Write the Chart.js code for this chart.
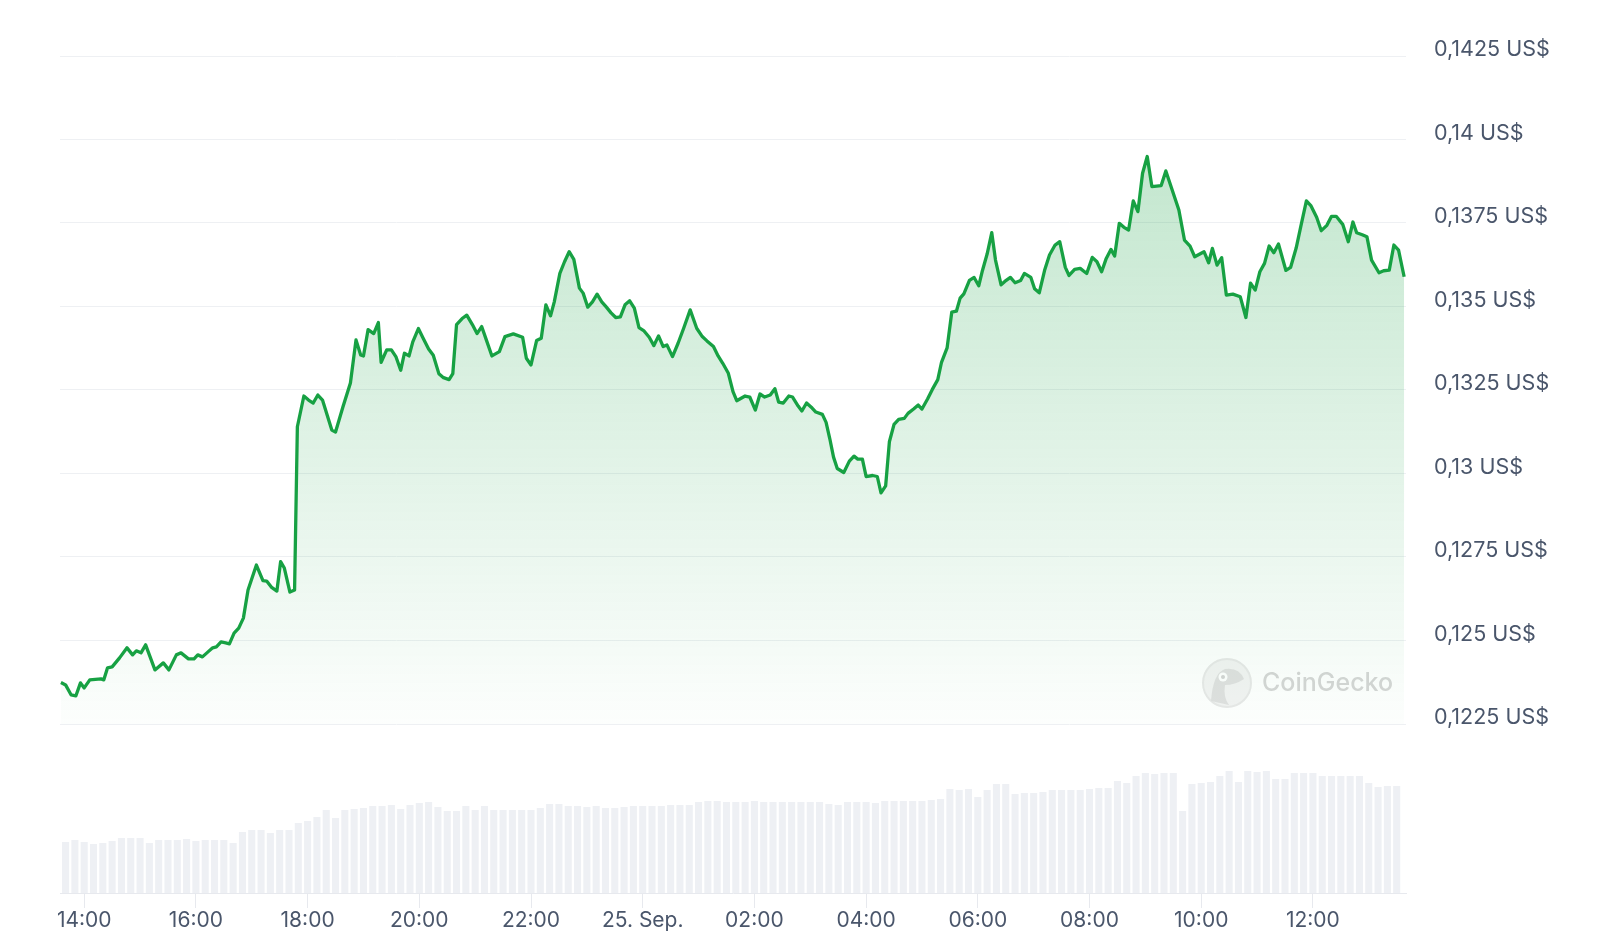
<!DOCTYPE html>
<html>
<head>
<meta charset="utf-8">
<title>Kursverlauf 24h</title>
<script src="https://cdn.jsdelivr.net/npm/chart.js@4.4.1/dist/chart.umd.min.js"></script>
<style>
  html, body { margin: 0; padding: 0; background: #ffffff; }
  #chart-container { width: 1600px; height: 949px; }
</style>
</head>
<body>
<div id="chart-container"><canvas id="chart" width="1600" height="949"></canvas></div>
<script>
// times are minutes after 00:00 on 24 Sep
const priceTimes = [
  815, 820, 826, 831, 836, 840, 846, 858, 861, 865, 870, 878, 886, 892, 896, 901, 906, 916, 925, 931,
  939, 944, 952, 958, 962, 967, 973, 978, 982, 987, 992, 996, 1001, 1006, 1011, 1016, 1025, 1032, 1036, 1041,
  1047, 1051, 1055, 1061, 1066, 1069, 1076, 1081, 1086, 1091, 1096, 1106, 1110, 1118, 1126, 1132, 1137, 1140, 1145, 1151,
  1156, 1159, 1165, 1170, 1175, 1180, 1184, 1189, 1193, 1199, 1204, 1210, 1215, 1221, 1226, 1232, 1236, 1240, 1246, 1251,
  1257, 1262, 1267, 1272, 1278, 1286, 1292, 1301, 1311, 1315, 1320, 1326, 1331, 1336, 1341, 1345, 1351, 1356, 1361, 1366,
  1372, 1376, 1381, 1386, 1391, 1396, 1401, 1406, 1411, 1416, 1421, 1426, 1431, 1436, 1441, 1447, 1452, 1457, 1462, 1466,
  1472, 1478, 1484, 1491, 1498, 1504, 1509, 1516, 1521, 1526, 1532, 1537, 1541, 1550, 1555, 1561, 1566, 1571, 1577, 1582,
  1586, 1591, 1597, 1601, 1607, 1611, 1616, 1622, 1626, 1633, 1637, 1641, 1645, 1649, 1656, 1662, 1667, 1671, 1676, 1680,
  1687, 1692, 1696, 1701, 1705, 1710, 1715, 1721, 1725, 1731, 1736, 1740, 1746, 1751, 1757, 1761, 1767, 1772, 1777, 1781,
  1785, 1791, 1796, 1801, 1805, 1810, 1815, 1819, 1825, 1829, 1835, 1840, 1846, 1850, 1857, 1861, 1866, 1872, 1877, 1883,
  1888, 1894, 1898, 1904, 1910, 1917, 1923, 1928, 1933, 1938, 1943, 1947, 1952, 1957, 1962, 1967, 1972, 1977, 1982, 1987,
  1997, 2002, 2009, 2016, 2022, 2028, 2033, 2043, 2048, 2052, 2057, 2062, 2067, 2074, 2082, 2088, 2093, 2098, 2103, 2108,
  2113, 2118, 2123, 2131, 2136, 2142, 2147, 2153, 2158, 2164, 2169, 2175, 2180, 2185, 2192, 2198, 2203, 2207, 2213, 2218,
  2223, 2231, 2236, 2242, 2247, 2252, 2258
];
const prices = [
  0.12374, 0.12367, 0.12337, 0.12334, 0.12373, 0.12358, 0.12382, 0.12385, 0.12382, 0.12418, 0.12421, 0.12448, 0.12478, 0.12457, 0.12469, 0.12463, 0.12487, 0.12412, 0.12433, 0.12412,
  0.12457, 0.12463, 0.12445, 0.12445, 0.12457, 0.12451, 0.12466, 0.12478, 0.12481, 0.12496, 0.12493, 0.1249, 0.12522, 0.12537, 0.12567, 0.12651, 0.12726, 0.12679, 0.12678, 0.1266,
  0.12648, 0.12736, 0.12717, 0.12645, 0.12651, 0.1314, 0.13232, 0.1322, 0.13211, 0.13235, 0.1322, 0.1313, 0.13124, 0.132, 0.13271, 0.134, 0.13355, 0.13352, 0.13431, 0.13419,
  0.13452, 0.13333, 0.1337, 0.1337, 0.13349, 0.13309, 0.1336, 0.13352, 0.13394, 0.13434, 0.13406, 0.13373, 0.13354, 0.13299, 0.13287, 0.13281, 0.13299, 0.13446, 0.13464, 0.13474,
  0.13446, 0.13419, 0.1344, 0.134, 0.13352, 0.13365, 0.1341, 0.13418, 0.13408, 0.13345, 0.13325, 0.13398, 0.13405, 0.13505, 0.13472, 0.13514, 0.13599, 0.13634, 0.13664, 0.13641,
  0.13555, 0.1354, 0.13498, 0.13514, 0.13537, 0.13514, 0.13498, 0.13481, 0.13467, 0.13469, 0.13505, 0.13517, 0.13495, 0.13437, 0.13428, 0.13408, 0.13383, 0.13412, 0.1338, 0.13385,
  0.1335, 0.1339, 0.13435, 0.1349, 0.13435, 0.1341, 0.13397, 0.1338, 0.13352, 0.1333, 0.133, 0.13245, 0.13218, 0.13232, 0.13229, 0.1319, 0.13238, 0.13229, 0.13235, 0.13254,
  0.13214, 0.13211, 0.13232, 0.13229, 0.13202, 0.13187, 0.13211, 0.13196, 0.13184, 0.13177, 0.13153, 0.13104, 0.13049, 0.13015, 0.13003, 0.13037, 0.13052, 0.13043, 0.13043, 0.12991,
  0.12994, 0.12991, 0.12942, 0.12963, 0.13095, 0.13147, 0.13162, 0.13165, 0.1318, 0.13193, 0.13205, 0.13193, 0.13223, 0.13251, 0.13281, 0.13333, 0.13376, 0.13483, 0.13486, 0.13525,
  0.13538, 0.13578, 0.13587, 0.13562, 0.13608, 0.13657, 0.13721, 0.13639, 0.13565, 0.13575, 0.13587, 0.13571, 0.13578, 0.13599, 0.13587, 0.13553, 0.13541, 0.13611, 0.13654, 0.13684,
  0.13694, 0.13617, 0.13593, 0.13611, 0.13614, 0.13599, 0.13647, 0.13634, 0.13604, 0.13644, 0.13671, 0.13651, 0.13749, 0.13737, 0.13729, 0.13816, 0.13784, 0.13899, 0.13949, 0.13859,
  0.13862, 0.13906, 0.13847, 0.13789, 0.13699, 0.13681, 0.13649, 0.13664, 0.13631, 0.13674, 0.13624, 0.13646, 0.13534, 0.13537, 0.13529, 0.13467, 0.1357, 0.13549, 0.13604, 0.13629,
  0.13681, 0.13661, 0.13687, 0.13608, 0.13617, 0.13675, 0.1374, 0.13816, 0.13801, 0.13767, 0.13727, 0.13743, 0.1377, 0.1377, 0.13746, 0.13694, 0.13753, 0.13721, 0.13715, 0.13709,
  0.13639, 0.13601, 0.13607, 0.13609, 0.13684, 0.13669, 0.13589
];

// 10-minute volume bars, in million US$
const volumeTimes = [
  820, 830, 840, 850, 860, 870, 880, 890, 900, 910, 920, 930, 940, 950, 960, 970, 980, 990, 1000, 1010,
  1020, 1030, 1040, 1050, 1060, 1070, 1080, 1090, 1100, 1110, 1120, 1130, 1140, 1150, 1160, 1170, 1180, 1190, 1200, 1210,
  1220, 1230, 1240, 1250, 1260, 1270, 1280, 1290, 1300, 1310, 1320, 1330, 1340, 1350, 1360, 1370, 1380, 1390, 1400, 1410,
  1420, 1430, 1440, 1450, 1460, 1470, 1480, 1490, 1500, 1510, 1520, 1530, 1540, 1550, 1560, 1570, 1580, 1590, 1600, 1610,
  1620, 1630, 1640, 1650, 1660, 1670, 1680, 1690, 1700, 1710, 1720, 1730, 1740, 1750, 1760, 1770, 1780, 1790, 1800, 1810,
  1820, 1830, 1840, 1850, 1860, 1870, 1880, 1890, 1900, 1910, 1920, 1930, 1940, 1950, 1960, 1970, 1980, 1990, 2000, 2010,
  2020, 2030, 2040, 2050, 2060, 2070, 2080, 2090, 2100, 2110, 2120, 2130, 2140, 2150, 2160, 2170, 2180, 2190, 2200, 2210,
  2220, 2230, 2240, 2250
];
const volumes = [
  5.1, 5.3, 5.1, 4.9, 5.0, 5.2, 5.5, 5.5, 5.5, 5.0, 5.3, 5.3, 5.3, 5.4, 5.2, 5.3, 5.3, 5.3, 5.0, 6.1,
  6.3, 6.3, 6.0, 6.3, 6.3, 7.0, 7.2, 7.6, 8.3, 7.5, 8.3, 8.4, 8.5, 8.7, 8.7, 8.8, 8.4, 8.8, 9.0, 9.1,
  8.6, 8.2, 8.2, 8.7, 8.3, 8.7, 8.3, 8.3, 8.3, 8.3, 8.3, 8.5, 8.9, 8.9, 8.7, 8.7, 8.6, 8.7, 8.5, 8.5,
  8.6, 8.7, 8.7, 8.7, 8.7, 8.8, 8.8, 8.8, 9.1, 9.2, 9.2, 9.1, 9.1, 9.1, 9.2, 9.1, 9.1, 9.1, 9.1, 9.1,
  9.1, 9.1, 8.9, 8.8, 9.1, 9.1, 9.1, 9.0, 9.2, 9.2, 9.2, 9.2, 9.2, 9.3, 9.4, 10.4, 10.3, 10.4, 9.6, 10.3,
  10.9, 10.9, 9.9, 10.0, 10.0, 10.1, 10.3, 10.3, 10.3, 10.3, 10.4, 10.5, 10.5, 11.2, 11.0, 11.7, 12.0, 11.9, 12.0, 12.0,
  8.2, 10.9, 11.0, 11.1, 11.7, 12.2, 11.1, 12.2, 12.1, 12.2, 11.4, 11.4, 12.0, 12.0, 12.0, 11.7, 11.7, 11.7, 11.7, 11.7,
  11.0, 10.6, 10.7, 10.7
];

const xTickTimes = [840, 960, 1080, 1200, 1320, 1440, 1560, 1680, 1800, 1920, 2040, 2160];
const xTickLabels = ["14:00", "16:00", "18:00", "20:00", "22:00", "25. Sep.", "02:00", "04:00", "06:00", "08:00", "10:00", "12:00"];
const yTickValues = [0.1225, 0.125, 0.1275, 0.13, 0.1325, 0.135, 0.1375, 0.14, 0.1425];

const labelColor = "#4a566b";
const lineColor = "#17a143";

function fillGradient(context) {
  const chart = context.chart;
  const y = chart.scales.y;
  if (!chart.chartArea || !y || !isFinite(y.top) || !isFinite(y.bottom)) return "rgba(23,161,67,0.15)";
  const g = chart.ctx.createLinearGradient(0, y.top, 0, y.bottom);
  g.addColorStop(0, "rgba(23,161,67,0.30)");
  g.addColorStop(1, "rgba(23,161,67,0.01)");
  return g;
}

function formatPrice(v) {
  return Number(v.toFixed(4)).toString().replace(".", ",") + " US$";
}

// faint CoinGecko mark under the line
const watermark = {
  id: "watermark",
  beforeDatasetsDraw(chart) {
    const ctx = chart.ctx;
    const cx = chart.chartArea.right - 179;
    const cy = chart.scales.y.bottom - 41;
    ctx.save();
    ctx.beginPath();
    ctx.arc(cx, cy, 24, 0, Math.PI * 2);
    ctx.fillStyle = "#f3f3f3";
    ctx.fill();
    ctx.lineWidth = 2;
    ctx.strokeStyle = "#e8e8e8";
    ctx.stroke();
    ctx.beginPath();
    ctx.moveTo(cx - 16, cy + 18);
    ctx.quadraticCurveTo(cx - 14, cy - 10, cx - 2, cy - 14);
    ctx.quadraticCurveTo(cx + 12, cy - 16, cx + 17, cy - 4);
    ctx.quadraticCurveTo(cx + 8, cy + 2, cx - 2, cy + 2);
    ctx.quadraticCurveTo(cx - 4, cy + 14, cx + 2, cy + 22);
    ctx.closePath();
    ctx.fillStyle = "#e0e0e0";
    ctx.fill();
    ctx.beginPath();
    ctx.arc(cx - 4, cy - 6, 4.5, 0, Math.PI * 2);
    ctx.fillStyle = "#ffffff";
    ctx.fill();
    ctx.beginPath();
    ctx.arc(cx - 4, cy - 6, 2, 0, Math.PI * 2);
    ctx.fillStyle = "#d4d4d4";
    ctx.fill();
    ctx.font = "500 25px Inter";
    ctx.fillStyle = "#d6d6d6";
    ctx.textBaseline = "middle";
    ctx.fillText("CoinGecko", cx + 35, cy);
    ctx.restore();
  }
};

new Chart(document.getElementById("chart"), {
  type: "line",
  data: {
    datasets: [
      {
        type: "line",
        label: "Preis",
        data: priceTimes.map((t, i) => ({ x: t, y: prices[i] })),
        yAxisID: "y",
        borderColor: lineColor,
        borderWidth: 3.3,
        borderJoinStyle: "round",
        pointRadius: 0,
        tension: 0,
        fill: "start",
        backgroundColor: fillGradient,
        order: 0,
      },
      {
        type: "bar",
        label: "Volumen",
        data: volumeTimes.map((t, i) => ({ x: t, y: volumes[i] })),
        yAxisID: "yv",
        backgroundColor: "#eef0f4",
        barPercentage: 0.76,
        categoryPercentage: 1,
        order: 1,
      },
    ],
  },
  options: {
    responsive: false,
    animation: false,
    layout: { padding: { left: 60, top: 56, right: 0, bottom: 0 } },
    plugins: {
      legend: { display: false },
      tooltip: { enabled: false },
    },
    scales: {
      x: {
        type: "linear",
        position: "bottom",
        min: 814,
        max: 2260,
        offset: false,
        afterBuildTicks: (s) => { s.ticks = xTickTimes.map((v) => ({ value: v })); },
        afterFit: (s) => { s.height = 56; },
        grid: { offset: false, drawOnChartArea: false, drawTicks: true, tickLength: 15, color: "#e7e9ee" },
        border: { display: true, color: "#e7e9ee" },
        ticks: {
          font: { family: "Inter", size: 21 },
          color: labelColor,
          padding: 0,
          maxRotation: 0,
          autoSkip: false,
          callback: (v) => xTickLabels[xTickTimes.indexOf(v)],
        },
      },
      y: {
        type: "linear",
        position: "right",
        stack: "main",
        stackWeight: 668,
        min: 0.1225,
        max: 0.1425,
        afterBuildTicks: (s) => { s.ticks = yTickValues.map((v) => ({ value: v })); },
        afterFit: (s) => { s.width = 194; },
        grid: { color: "#eef0f3", drawTicks: false },
        border: { display: false },
        ticks: {
          font: { family: "Inter", size: 21.5 },
          color: labelColor,
          padding: 28,
          labelOffset: -6,
          callback: (v) => formatPrice(v),
        },
      },
      yv: {
        type: "linear",
        position: "right",
        stack: "main",
        stackWeight: 169,
        min: 0,
        max: 16.9,
        afterFit: (s) => { s.width = 194; },
        grid: { display: false },
        border: { display: false },
        ticks: { display: false },
      },
    },
  },
  plugins: [watermark],
});
</script>
</body>
</html>
